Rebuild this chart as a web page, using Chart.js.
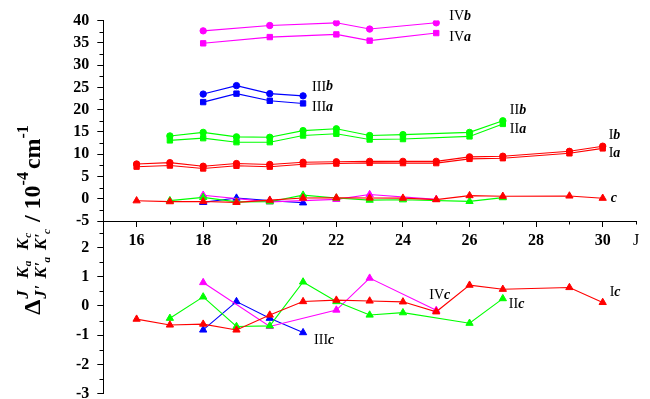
<!DOCTYPE html>
<html>
<head>
<meta charset="utf-8">
<script src="https://cdn.jsdelivr.net/npm/chart.js@4/dist/chart.umd.min.js"></script>
<style>
  html, body { margin: 0; padding: 0; background: #fff; }
  canvas { display: block; }
</style>
</head>
<body>
<canvas id="chart" width="650" height="399"></canvas>
<script>
const SERIF = '"Liberation Serif", "Times New Roman", serif';

// Rotational quantum number J for each band
const jI   = [16, 17, 18, 19, 20, 21, 22, 23, 24, 25, 26, 27, 29, 30];
const jII  = [17, 18, 19, 20, 21, 22, 23, 24, 26, 27];
const jIII = [18, 19, 20, 21];
const jIV  = [18, 20, 22, 23, 25];

// Splittings, 10^-4 cm^-1
const Ia   = [7.2, 7.45, 6.8, 7.4, 7.2, 7.75, 7.9, 8.05, 8.0, 8.0, 8.95, 9.1, 10.2, 11.3];
const Ib   = [7.8, 8.1, 7.3, 7.9, 7.7, 8.2, 8.3, 8.4, 8.4, 8.4, 9.4, 9.55, 10.65, 11.8];
const Ic   = [-0.45, -0.65, -0.62, -0.82, -0.31, 0.15, 0.2, 0.17, 0.14, -0.2, 0.71, 0.57, 0.63, 0.12];

const IIa  = [13.1, 13.6, 12.7, 12.7, 14.2, 14.6, 13.3, 13.4, 14.0, 16.8];
const IIb  = [14.1, 14.9, 13.9, 13.8, 15.3, 15.7, 14.2, 14.4, 14.9, 17.5];
const IIc  = [-0.42, 0.31, -0.7, -0.68, 0.82, 0.15, -0.31, -0.23, -0.59, 0.25];

const IIIa = [21.7, 23.6, 22.0, 21.4];
const IIIb = [23.5, 25.4, 23.6, 23.1];
const IIIc = [-0.82, 0.15, -0.42, -0.91];

const IVa  = [34.9, 36.3, 36.9, 35.5, 37.2];
const IVb  = [37.7, 38.9, 39.5, 38.1, 39.5];
const IVc  = [0.8, -0.7, -0.14, 0.95, -0.15];

// Axis ticks
const xMajorTicks = [16, 18, 20, 22, 24, 26, 28, 30];
const xMinorTicks = [17, 19, 21, 23, 25, 27, 29, 31];
const xAxisName = 'J';
const yTopMinor = [-2.5, 2.5, 7.5, 12.5, 17.5, 22.5, 27.5, 32.5, 37.5];
const yBottomMinor = [-2.5, -1.5, -0.5, 0.5, 1.5, 2.5];

const RED = '#ff0000', GREEN = '#00ff00', BLUE = '#0000ff', MAGENTA = '#ff00ff';

function pts(js, vs) { return js.map((j, i) => ({ x: j, y: vs[i] })); }

const STYLE = {
  circle:   { pointStyle: 'circle',   pointRadius: 3.2 },
  rect:     { pointStyle: 'rect',     pointRadius: 3.8 },
  triangle: { pointStyle: 'triangle', pointRadius: 4.2 }
};

function series(id, js, vs, color, marker, axis) {
  return Object.assign({
    label: id,
    data: pts(js, vs),
    yAxisID: axis,
    showLine: true,
    borderColor: color,
    backgroundColor: color,
    pointBackgroundColor: color,
    pointBorderColor: color,
    pointBorderWidth: 1,
    borderWidth: 1.1,
    tension: 0
  }, STYLE[marker]);
}

const datasets = [
  series('IVb', jIV, IVb, MAGENTA, 'circle', 'y'),
  series('IVa', jIV, IVa, MAGENTA, 'rect', 'y'),
  series('IIIb', jIII, IIIb, BLUE, 'circle', 'y'),
  series('IIIa', jIII, IIIa, BLUE, 'rect', 'y'),
  series('IIb', jII, IIb, GREEN, 'circle', 'y'),
  series('IIa', jII, IIa, GREEN, 'rect', 'y'),
  series('Ib', jI, Ib, RED, 'circle', 'y'),
  series('Ia', jI, Ia, RED, 'rect', 'y'),
  // c components on the wide scale
  series('Ic-top', jI, Ic, RED, 'triangle', 'y'),
  series('IIc-top', jII, IIc, GREEN, 'triangle', 'y'),
  series('IVc-top', jIV, IVc, MAGENTA, 'triangle', 'y'),
  series('IIIc-top', jIII, IIIc, BLUE, 'triangle', 'y'),
  // c components on the expanded scale
  series('Ic', jI, Ic, RED, 'triangle', 'y2'),
  series('IIc', jII, IIc, GREEN, 'triangle', 'y2'),
  series('IVc', jIV, IVc, MAGENTA, 'triangle', 'y2'),
  series('IIIc', jIII, IIIc, BLUE, 'triangle', 'y2')
];

// Band labels placed next to the last point of a series (pixel offsets)
const bandLabels = [
  { series: 'IVb',  roman: 'IV',  letter: 'b', dx: 13, dy: -6 },
  { series: 'IVa',  roman: 'IV',  letter: 'a', dx: 13, dy: 4 },
  { series: 'IIIb', roman: 'III', letter: 'b', dx: 9,  dy: -9 },
  { series: 'IIIa', roman: 'III', letter: 'a', dx: 9,  dy: 4 },
  { series: 'IIb',  roman: 'II',  letter: 'b', dx: 7,  dy: -10 },
  { series: 'IIa',  roman: 'II',  letter: 'a', dx: 7,  dy: 5 },
  { series: 'Ib',   roman: 'I',   letter: 'b', dx: 6,  dy: -11 },
  { series: 'Ia',   roman: 'I',   letter: 'a', dx: 6,  dy: 5 },
  { series: 'Ic-top', roman: '',  letter: 'c', dx: 8,  dy: 0 },
  { series: 'IIIc', roman: 'III', letter: 'c', dx: 11, dy: 8 },
  { series: 'IVc',  roman: 'IV',  letter: 'c', dx: -7, dy: -15 },
  { series: 'IIc',  roman: 'II',  letter: 'c', dx: 6,  dy: 6 },
  { series: 'Ic',   roman: 'I',   letter: 'c', dx: 7,  dy: -10 }
];

const AXIS_LEFT = 103.3;

function noPad(scale) {
  scale.paddingTop = 0;
  scale.paddingBottom = 0;
}

const extras = {
  id: 'extras',
  afterDraw(chart) {
    const ctx = chart.ctx;
    const xs = chart.scales.x, yt = chart.scales.y, yb = chart.scales.y2;
    ctx.save();
    ctx.strokeStyle = '#000';
    ctx.lineWidth = 1;
    // minor tick marks
    ctx.beginPath();
    const axisY = Math.round(yt.getPixelForValue(-5)) + 0.5;
    xMinorTicks.forEach(v => {
      const px = Math.round(xs.getPixelForValue(v)) + 0.5;
      ctx.moveTo(px, axisY); ctx.lineTo(px, axisY + 3);
    });
    const axisX = Math.round(chart.chartArea.left) + 0.5;
    yTopMinor.forEach(v => {
      const py = Math.round(yt.getPixelForValue(v)) + 0.5;
      ctx.moveTo(axisX, py); ctx.lineTo(axisX - 4, py);
    });
    yBottomMinor.forEach(v => {
      const py = Math.round(yb.getPixelForValue(v)) + 0.5;
      ctx.moveTo(axisX, py); ctx.lineTo(axisX - 4, py);
    });
    ctx.stroke();

    // band labels
    ctx.fillStyle = '#000';
    ctx.textBaseline = 'middle';
    ctx.textAlign = 'left';
    bandLabels.forEach(l => {
      const idx = chart.data.datasets.findIndex(d => d.label === l.series);
      const meta = chart.getDatasetMeta(idx);
      const last = meta.data[meta.data.length - 1];
      let x = last.x + l.dx;
      const y = last.y + l.dy;
      if (l.roman) {
        ctx.font = '14px ' + SERIF;
        ctx.fillText(l.roman, x, y);
        x += ctx.measureText(l.roman).width;
      }
      ctx.font = 'bold italic 14px ' + SERIF;
      ctx.fillText(l.letter, x, y);
    });

    drawAxisTitle(ctx, 40, 220);
    ctx.restore();
  }
};

// Vertical axis title: Δ with upper (J Ka Kc) and lower (J' K'a K'c) indices, then unit
function drawAxisTitle(ctx, bx, cy) {
  const MAIN = 'bold 24px ' + SERIF;
  const IDX = 'bold italic 17px ' + SERIF;
  const SMALL = 'bold italic 11px ' + SERIF;
  const EXP = 'bold 16px ' + SERIF;
  const SUP = -12, SUB = 6;
  const upper = [['J', ''], ['K', 'a'], ['K', 'c']];
  const lower = [["J'", ''], ["K'", 'a'], ["K'", 'c']];

  const runs = [];
  const w = (font, t) => { ctx.font = font; return ctx.measureText(t).width; };
  let x = 0;
  runs.push({ t: '\u0394', font: MAIN, x: x, dy: 0 });
  x += w(MAIN, '\u0394') + 1;
  for (let i = 0; i < 3; i++) {
    const [uB, uS] = upper[i];
    const [lB, lS] = lower[i];
    runs.push({ t: uB, font: IDX, x: x, dy: SUP });
    runs.push({ t: uS, font: SMALL, x: x + w(IDX, uB) + 1, dy: SUP + 3 });
    runs.push({ t: lB, font: IDX, x: x, dy: SUB });
    runs.push({ t: lS, font: SMALL, x: x + w(IDX, lB), dy: SUB + 4 });
    const gw = Math.max(w(IDX, uB) + w(SMALL, uS) + 1, w(IDX, lB) + w(SMALL, lS));
    x += gw + 7;
  }
  runs.push({ t: '/ 10', font: MAIN, x: x, dy: 0 });
  x += w(MAIN, '/ 10');
  runs.push({ t: '-4', font: EXP, x: x, dy: SUP });
  x += w(EXP, '-4') + 3;
  runs.push({ t: 'cm', font: MAIN, x: x, dy: 0 });
  x += w(MAIN, 'cm');
  runs.push({ t: '-1', font: EXP, x: x, dy: SUP });
  x += w(EXP, '-1');

  ctx.save();
  ctx.translate(bx, cy);
  ctx.rotate(-Math.PI / 2);
  ctx.textBaseline = 'alphabetic';
  ctx.textAlign = 'left';
  ctx.fillStyle = '#000';
  const start = -x / 2;
  runs.forEach(r => {
    if (!r.t) return;
    ctx.font = r.font;
    ctx.fillText(r.t, start + r.x, r.dy);
  });
  ctx.restore();
}

const tickFont = { family: SERIF, size: 16, weight: 'bold' };

new Chart(document.getElementById('chart'), {
  type: 'scatter',
  data: { datasets },
  options: {
    responsive: false,
    animation: false,
    devicePixelRatio: 1,
    layout: { padding: { left: 0, right: 14, top: 20.6, bottom: 4 } },
    plugins: { legend: { display: false }, tooltip: { enabled: false } },
    elements: { line: { borderCapStyle: 'round' } },
    scales: {
      x: {
        type: 'linear',
        min: 15, max: 31,
        position: { y: -5 },
        grid: {
          drawOnChartArea: false,
          tickLength: 5,
          tickColor: (c) => (c.tick && c.tick.value === 31) ? 'rgba(0,0,0,0)' : '#000'
        },
        border: { color: '#000', width: 1 },
        afterBuildTicks: (s) => {
          s.ticks = xMajorTicks.map(v => ({ value: v })).concat([{ value: 31 }]);
        },
        afterFit: noPad,
        ticks: {
          autoSkip: false,
          maxRotation: 0,
          padding: 5,
          color: '#000',
          font: (c) => (c.tick && c.tick.value === 31)
            ? { family: SERIF, size: 16, weight: 'normal' } : tickFont,
          callback: (v) => v === 31 ? xAxisName : String(v)
        }
      },
      y: {
        type: 'linear',
        min: -5, max: 40,
        position: 'left',
        stack: 'panels',
        stackWeight: 201,
        weight: 1,
        grid: { drawOnChartArea: false, tickLength: 6, tickColor: '#000' },
        border: { color: '#000', width: 1 },
        afterFit: (s) => { s.width = AXIS_LEFT; noPad(s); },
        ticks: { stepSize: 5, autoSkip: false, padding: 8, color: '#000', font: tickFont, includeBounds: false }
      },
      y2: {
        type: 'linear',
        min: -3, max: 2.9,
        position: 'left',
        stack: 'panels',
        stackWeight: 173.3,
        weight: 0,
        grid: { drawOnChartArea: false, tickLength: 6, tickColor: '#000' },
        border: { color: '#000', width: 1 },
        afterFit: (s) => { s.width = AXIS_LEFT; noPad(s); },
        ticks: { stepSize: 1, autoSkip: false, padding: 8, color: '#000', font: tickFont, includeBounds: false }
      }
    }
  },
  plugins: [extras]
});
</script>
</body>
</html>
